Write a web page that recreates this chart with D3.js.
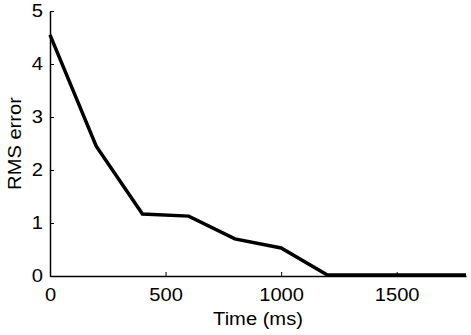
<!DOCTYPE html>
<html>
<head>
<meta charset="utf-8">
<script src="https://cdn.jsdelivr.net/npm/d3@7"></script>
<style>
  body { margin: 0; background: #fff; }
  text { font-family: "Liberation Sans", Arial, sans-serif; }
</style>
</head>
<body>
<div id="container"></div>
<script>
const times = [0, 200, 400, 600, 800, 1000, 1200, 1400, 1600, 1800];
const rmsError = [4.55, 2.45, 1.17, 1.13, 0.7, 0.53, 0.02, 0.02, 0.02, 0.02];
const xTicks = [0, 500, 1000, 1500];
const yTicks = [0, 1, 2, 3, 4, 5];

const W = 471, H = 335;
const margin = { top: 11, right: 5, bottom: 59, left: 50 };
const width = W - margin.left - margin.right,
  height = H - margin.top - margin.bottom;
const fontSize = "17.5px";

const svg = d3
  .select("#container")
  .append("svg")
  .attr("width", W)
  .attr("height", H)
  .append("g")
  .attr("transform", `translate(${margin.left},${margin.top})`);

const x = d3.scaleLinear().domain([0, 1800]).range([0, width]);
const y = d3.scaleLinear().domain([0, 5]).range([height, 0]);

const xAxis = d3.axisBottom(x).tickValues(xTicks).tickFormat(d3.format("d"))
  .tickSizeInner(-4).tickSizeOuter(0).tickPadding(12);
const yAxis = d3.axisLeft(y).tickValues(yTicks).tickFormat(d3.format("d"))
  .tickSizeInner(-4).tickSizeOuter(0).tickPadding(7);

const gx = svg.append("g").attr("transform", `translate(0,${height})`).call(xAxis);
const gy = svg.append("g").call(yAxis);

[gx, gy].forEach((g) => {
  g.select(".domain").attr("stroke", "#000").attr("stroke-width", 1.5);
  g.selectAll(".tick line").attr("stroke", "#000").attr("stroke-width", 1);
  g.selectAll(".tick text").attr("fill", "#000").style("font-size", fontSize);
});
gx.selectAll(".tick text").attr("dy", "0.72em");

const line = d3
  .line()
  .x((d, i) => x(times[i]))
  .y((d) => y(d));

svg
  .append("path")
  .datum(rmsError)
  .attr("fill", "none")
  .attr("stroke", "#000")
  .attr("stroke-width", 3.5)
  .attr("stroke-linejoin", "miter")
  .attr("d", line);

svg
  .append("text")
  .attr("x", width / 2)
  .attr("y", height + 49)
  .attr("text-anchor", "middle")
  .style("font-size", fontSize)
  .text("Time (ms)");

svg
  .append("text")
  .attr("transform", `translate(-29,${height / 2}) rotate(-90)`)
  .attr("text-anchor", "middle")
  .style("font-size", fontSize)
  .text("RMS error");

// reference type is a bit wider than Liberation Sans, stretch horizontally
svg.selectAll("text").each(function () {
  const len = this.getComputedTextLength();
  d3.select(this).attr("textLength", len * 1.15).attr("lengthAdjust", "spacingAndGlyphs");
});
</script>
</body>
</html>
